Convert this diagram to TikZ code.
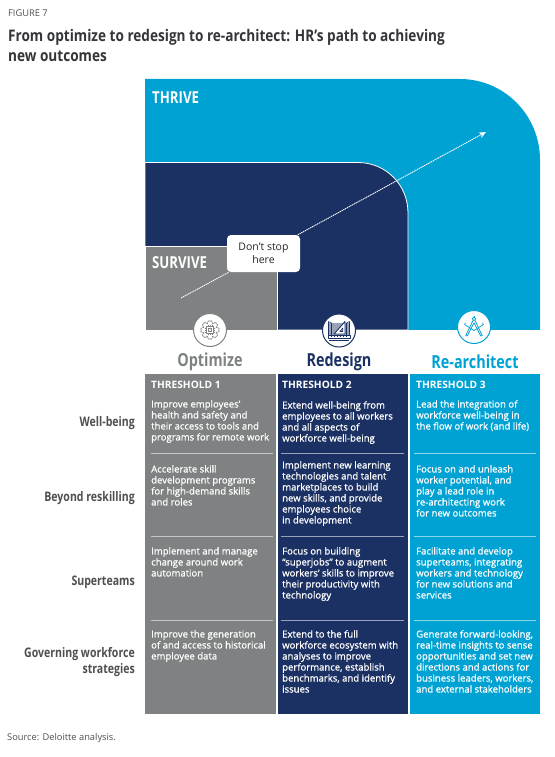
\documentclass[tikz,border=0pt]{standalone}
\usepackage{fontspec}
\setmainfont{Open Sans}
\newfontfamily\semif[FakeBold=0.9]{Open Sans}
\newfontfamily\condf[FakeStretch=0.8]{Open Sans}
\newfontfamily\titlef[FakeStretch=0.85]{Open Sans}
\usetikzlibrary{arrows.meta}
\definecolor{grayc}{HTML}{7F8282}
\definecolor{navyc}{HTML}{1C3163}
\definecolor{bluec}{HTML}{00A2D3}
\definecolor{labelc}{HTML}{4F4F51}
\definecolor{titlec}{HTML}{35363A}
\tikzset{
  x=1pt,y=-1pt,
  bodytext/.style={anchor=north west,inner sep=0pt,align=left,text=white,
    font=\semif\fontsize{9.55}{11}\selectfont,
    execute at begin node=\rule{0pt}{8pt}},
  thresh/.style={anchor=west,inner sep=0pt,text=white,font=\fontsize{10.2}{12}\selectfont\bfseries},
  zone/.style={anchor=west,inner sep=0pt,text=white,font=\condf\fontsize{16.5}{18}\selectfont\bfseries},
  rowlabel/.style={anchor=east,inner sep=0pt,align=right,text=labelc,font=\condf\fontsize{13.2}{16}\selectfont\bfseries},
  head/.style={inner sep=0pt,font=\condf\fontsize{18}{20}\selectfont\bfseries},
  sep/.style={draw=white,draw opacity=.55,line width=.6pt},
  badge/.style={circle,fill=white,line width=1pt,minimum size=33pt,inner sep=0pt},
  ico/.style={line width=.55pt,line join=round},
  flow/.style={draw=white,line width=.9pt,dash pattern=on 1.3pt off .7pt},
}
\begin{document}
\begin{tikzpicture}
\useasboundingbox (0,0) rectangle (554,757);
\fill[white] (0,0) rectangle (554,757);
% heading
\node[anchor=west,inner sep=0pt,text=labelc,font=\fontsize{9.3}{11}\selectfont] (fig) at (8,13) {FIGURE 7};
\node[anchor=north west,inner sep=0pt,align=left,text=titlec,font=\titlef\fontsize{16}{20.5}\selectfont\bfseries] (title) at (8,29) {From optimize to redesign to re-architect: HR’s path to achieving\\new outcomes};
% nested zones
\fill[bluec] (145,79) -- (460,79) .. controls (504,79) and (540,115) .. (540,160) -- (540,330) -- (145,330) -- cycle;
\fill[navyc,draw=white,line width=.8pt] (145,162.5) -- (358,162.5) .. controls (386,162.5) and (408,185) .. (408,213) -- (408,330) -- (145,330) -- cycle;
\fill[grayc,draw=white,line width=.8pt] (145,246) -- (277,246) -- (277,330) -- (145,330) -- cycle;
\fill[white] (144,330) rectangle (541,372);
\node[zone] (thrive) at (152,98) {THRIVE};
\node[zone] (survive) at (152,263) {SURVIVE};
% path
\coordinate (pathstart) at (181,298);
\coordinate (pathend) at (486,132);
\node[fill=white,rounded corners=4pt,minimum width=73pt,minimum height=37pt,inner sep=0pt,align=center,text=black!85,
  font=\fontsize{10.5}{12.5}\selectfont] (stop) at (263.5,253.5) {Don't stop\\here};
\draw[flow] (pathstart) -- (stop);
\draw[flow,-{Stealth[length=7pt,width=6pt]},shorten >=0pt] (stop) -- (pathend);
% badges
\node[badge,draw=grayc] (b1) at (210,330) {};
\node[badge,draw=navyc] (b2) at (339,330.5) {};
\node[badge,draw=bluec] (b3) at (474,327) {};
% gear icon
\begin{scope}[shift={(b1.center)},ico,draw=grayc]
  \draw (0,0) circle[radius=6.6];
  \foreach \a in {0,45,...,315}{
    \begin{scope}[rotate=\a]
      \fill[white] (-2.4,-5.8) rectangle (2.4,-7.2);
      \draw (-2.6,-6.2) -- (-1.8,-9) -- (1.8,-9) -- (2.6,-6.2);
    \end{scope}}
  \draw (-3.6,-3.6) rectangle (3.6,3.6);
  \draw (-1.7,-1.7) rectangle (1.7,1.7);
  \foreach \p in {-2,0,2}{
    \draw (\p,-3.6) -- (\p,-5);\draw (\p,3.6) -- (\p,5);
    \draw (-3.6,\p) -- (-5,\p);\draw (3.6,\p) -- (5,\p);}
\end{scope}
% blueprint icon
\begin{scope}[shift={(b2.center)},ico,draw=navyc]
  \fill[navyc!45] (-10.5,-8) rectangle (10.5,4);
  \draw (-10.5,-9) -- (-7.5,-7.5) -- (-7.5,5) -- (-10.5,5) -- cycle;
  \draw (10.5,-9) -- (7.5,-7.5) -- (7.5,5) -- (10.5,5) -- cycle;
  \draw[line width=.9pt,fill=white] (-5,3.5) -- (6,-9) -- (6,3.5) -- cycle;
  \draw[fill=navyc!45] (0.8,1) -- (3.8,-2.6) -- (3.8,1) -- cycle;
  \draw[line width=.8pt,fill=white] (-11,5.2) rectangle (11,7.6);
  \foreach \p in {-8,-5,...,8}{\draw (\p,5.2) -- (\p,6.4);}
  \draw[line width=1.3pt] (-10,10) -- (10,10);
\end{scope}
% compass icon
\begin{scope}[shift={(b3.center)},ico,draw=bluec,line width=.75pt]
  \draw (0,-8.2) circle[radius=1.8];
  \draw (-1,-6.6) -- (-8.2,8.5) -- (-6.8,9) -- (-.1,-4);
  \draw (1,-6.6) -- (8.2,8.5) -- (6.8,9) -- (.1,-4);
  \draw (-9.5,-2.5) -- (0,3.5) -- (9.5,-2.5);
  \draw (-8.5,-4.2) -- (-9.5,-2.5);\draw (8.5,-4.2) -- (9.5,-2.5);
  \draw (0,-11.5) -- (0,-10);
\end{scope}
% column headings
\node[head,text=grayc] (hopt) at (210,361.5) {Optimize};
\node[head,text=navyc] (hred) at (339,361.5) {Redesign};
\node[head,text=bluec] (hrea) at (475,361.5) {Re-architect};
% columns
\fill[grayc] (145,373.5) rectangle (275.7,714);
\fill[navyc] (277.7,373.5) rectangle (408,714);
\fill[bluec] (410,373.5) rectangle (539.5,714);
\foreach \y in {453.5,536.5,620.3}{
  \draw[sep] (151,\y) -- (273,\y);
  \draw[sep] (281,\y) -- (404,\y);
  \draw[sep] (413.5,\y) -- (536,\y);
}
\node[thresh] (t1) at (151,385) {THRESHOLD 1};
\node[thresh] (t2) at (282,385) {THRESHOLD 2};
\node[thresh] (t3) at (416,385) {THRESHOLD 3};
% column 1
\node[bodytext] (c11) at (151,400) {Improve employees’\\health and safety and\\their access to tools and\\programs for remote work};
\node[bodytext] (c12) at (151,465) {Accelerate skill\\development programs\\for high-demand skills\\and roles};
\node[bodytext] (c13) at (151,547) {Implement and manage\\change around work\\automation};
\node[bodytext] (c14) at (151,630) {Improve the generation\\of and access to historical\\employee data};
% column 2
\node[bodytext] (c21) at (282,401) {Extend well-being from\\employees to all workers\\and all aspects of\\workforce well-being};
\node[bodytext] (c22) at (282,461) {Implement new learning\\technologies and talent\\marketplaces to build\\new skills, and provide\\employees choice\\in development};
\node[bodytext] (c23) at (282,547) {Focus on building\\“superjobs” to augment\\workers’ skills to improve\\their productivity with\\technology};
\node[bodytext] (c24) at (282,630) {Extend to the full\\workforce ecosystem with\\analyses to improve\\performance, establish\\benchmarks, and identify\\issues};
% column 3
\node[bodytext] (c31) at (416,400) {Lead the integration of\\workforce well-being in\\the flow of work (and life)};
\node[bodytext] (c32) at (416,465) {Focus on and unleash\\worker potential, and\\play a lead role in\\re-architecting work\\for new outcomes};
\node[bodytext] (c33) at (416,547) {Facilitate and develop\\superteams, integrating\\workers and technology\\for new solutions and\\services};
\node[bodytext] (c34) at (416,630) {Generate forward-looking,\\real-time insights to sense\\opportunities and set new\\directions and actions for\\business leaders, workers,\\and external stakeholders};
% row labels
\node[rowlabel] (r1) at (135,423) {Well-being};
\node[rowlabel] (r2) at (135,498) {Beyond reskilling};
\node[rowlabel] (r3) at (135,582.5) {Superteams};
\node[rowlabel] (r4) at (135,662) {Governing workforce\\strategies};
% source
\node[anchor=west,inner sep=0pt,text=labelc,font=\fontsize{9.3}{11}\selectfont] (src) at (7,738) {Source: Deloitte analysis.};
\end{tikzpicture}
\end{document}
